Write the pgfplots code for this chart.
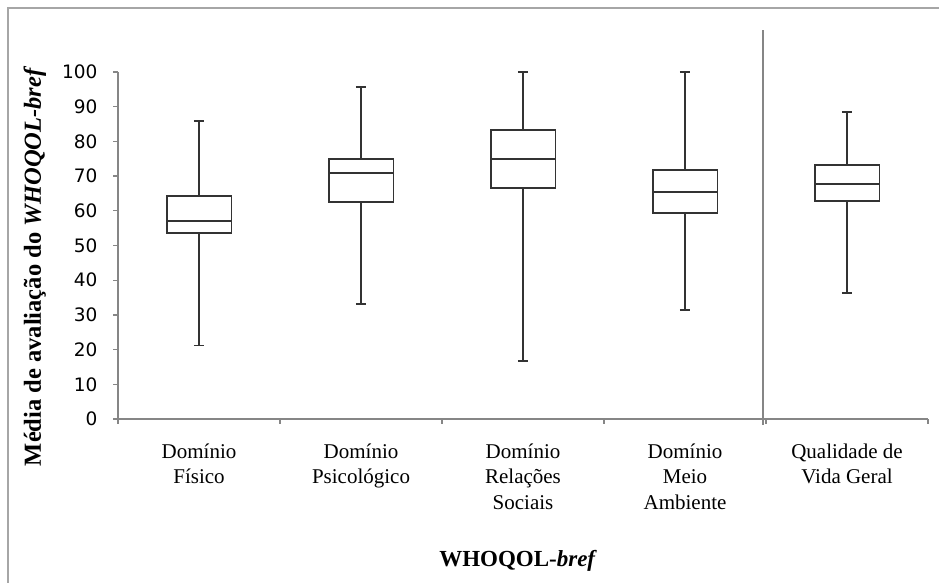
\documentclass[border=0pt]{standalone}
\usepackage{pgfplots}
\pgfplotsset{compat=1.18}
\usepackage{fontspec}
\setmainfont{Liberation Serif}
\newfontfamily\tickfont{DejaVu Sans}
\definecolor{axgray}{HTML}{868686}
\definecolor{framegray}{HTML}{A6A6A6}
\definecolor{boxcol}{HTML}{333333}
\begin{document}
\begin{tikzpicture}
\useasboundingbox (0,0) rectangle (939pt,583pt);
\draw[framegray, line width=1.5pt] (8pt,-20pt) -- (8pt,575pt) -- (960pt,575pt);
\begin{axis}[
  at={(118pt,164pt)}, anchor=south west,
  scale only axis, width=810pt, height=347pt,
  xmin=0.5, xmax=5.5, ymin=0, ymax=100,
  axis lines=left, axis line style={axgray, line width=1.3pt, -},
  clip=false,
  tick align=outside,
  major tick length=5pt,
  tick style={axgray, line width=1.3pt},
  ytick={0,10,...,100},
  yticklabel style={font=\tickfont\fontsize{18.5}{18.5}\selectfont, xshift=-12pt, /pgf/number format/assume math mode=true},
  xtick={0.5,1.5,2.5,3.5,4.5,5.5},
  xticklabels={},
  extra x ticks={1,2,3,4,5},
  extra x tick labels={{Domínio\\Físico},{Domínio\\Psicológico},{Domínio\\Relações\\Sociais},{Domínio\\Meio\\Ambiente},{Qualidade de\\Vida Geral}},
  extra x tick style={major tick length=0pt, xticklabel style={align=center, font=\fontsize{21}{25.5}\selectfont, anchor=north, yshift=-21pt}},
  xlabel={\textbf{WHOQOL-\textit{bref}}},
  ylabel={\textbf{Média de avaliação do \textit{WHOQOL-bref}}},
  every axis x label/.style={at={(axis description cs:0.494,-0.424)}, anchor=base, font=\fontsize{23}{23}\selectfont},
  every axis y label/.style={at={(axis description cs:-0.1025,0.44)}, rotate=90, anchor=center, font=\fontsize{24.5}{24.5}\selectfont},
  unbounded coords=jump,
  bx/.style={draw=boxcol, line width=1.8pt, mark=none, solid, fill=none},
]
% Domínio Físico: 21.2 / 53.6 / 57.0 / 64.2 / 85.9
\addplot[bx] coordinates {(0.8,53.6) (1.2,53.6) (1.2,64.2) (0.8,64.2)} --cycle;
\addplot[bx] coordinates {(0.8,57.0) (1.2,57.0) (1,nan) (1,64.2) (1,85.9) (1,nan) (0.968,85.9) (1.032,85.9) (1,nan) (1,53.6) (1,21.2) (1,nan) (0.968,21.2) (1.032,21.2)};
% Domínio Psicológico: 33.2 / 62.5 / 70.8 / 74.9 / 95.6
\addplot[bx] coordinates {(1.8,62.5) (2.2,62.5) (2.2,74.9) (1.8,74.9)} --cycle;
\addplot[bx] coordinates {(1.8,70.8) (2.2,70.8) (2,nan) (2,74.9) (2,95.6) (2,nan) (1.968,95.6) (2.032,95.6) (2,nan) (2,62.5) (2,33.2) (2,nan) (1.968,33.2) (2.032,33.2)};
% Domínio Relações Sociais: 16.8 / 66.5 / 74.9 / 83.3 / 100
\addplot[bx] coordinates {(2.8,66.5) (3.2,66.5) (3.2,83.3) (2.8,83.3)} --cycle;
\addplot[bx] coordinates {(2.8,74.9) (3.2,74.9) (3,nan) (3,83.3) (3,100) (3,nan) (2.968,100) (3.032,100) (3,nan) (3,66.5) (3,16.8) (3,nan) (2.968,16.8) (3.032,16.8)};
% Domínio Meio Ambiente: 31.5 / 59.3 / 65.5 / 71.8 / 100
\addplot[bx] coordinates {(3.8,59.3) (4.2,59.3) (4.2,71.8) (3.8,71.8)} --cycle;
\addplot[bx] coordinates {(3.8,65.5) (4.2,65.5) (4,nan) (4,71.8) (4,100) (4,nan) (3.968,100) (4.032,100) (4,nan) (4,59.3) (4,31.5) (4,nan) (3.968,31.5) (4.032,31.5)};
% Qualidade de Vida Geral: 36.3 / 62.8 / 67.8 / 73.1 / 88.5
\addplot[bx] coordinates {(4.8,62.8) (5.2,62.8) (5.2,73.1) (4.8,73.1)} --cycle;
\addplot[bx] coordinates {(4.8,67.8) (5.2,67.8) (5,nan) (5,73.1) (5,88.5) (5,nan) (4.968,88.5) (5.032,88.5) (5,nan) (5,62.8) (5,36.3) (5,nan) (4.968,36.3) (5.032,36.3)};
\draw[axgray, line width=2.5pt] (axis cs:4.48,-1.7) -- (axis cs:4.48,112.1);
\end{axis}
\end{tikzpicture}
\end{document}
